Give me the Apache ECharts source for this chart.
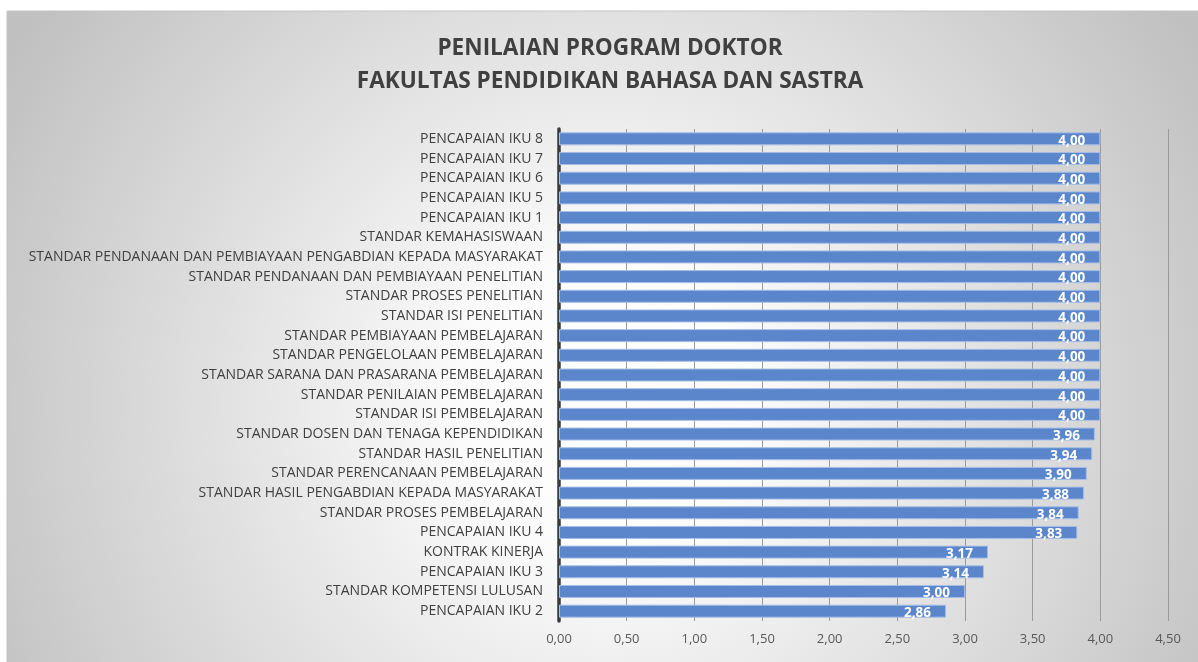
<!DOCTYPE html>
<html>
<head>
<meta charset="utf-8">
<script src="https://cdn.jsdelivr.net/npm/echarts@6/dist/echarts.min.js"></script>
<style>
  html, body { margin: 0; padding: 0; background: #fff; }
  #chart { width: 1198px; height: 662px; }
</style>
</head>
<body>
<div id="chart"></div>
<script>
// bottom to top, as drawn
var categories = [
  "PENCAPAIAN IKU 2",
  "STANDAR KOMPETENSI LULUSAN",
  "PENCAPAIAN IKU 3",
  "KONTRAK KINERJA",
  "PENCAPAIAN IKU 4",
  "STANDAR PROSES PEMBELAJARAN",
  "STANDAR HASIL PENGABDIAN KEPADA MASYARAKAT",
  "STANDAR PERENCANAAN PEMBELAJARAN",
  "STANDAR HASIL PENELITIAN",
  "STANDAR DOSEN DAN TENAGA KEPENDIDIKAN",
  "STANDAR ISI PEMBELAJARAN",
  "STANDAR PENILAIAN PEMBELAJARAN",
  "STANDAR SARANA DAN PRASARANA PEMBELAJARAN",
  "STANDAR PENGELOLAAN PEMBELAJARAN",
  "STANDAR PEMBIAYAAN PEMBELAJARAN",
  "STANDAR ISI PENELITIAN",
  "STANDAR PROSES PENELITIAN",
  "STANDAR PENDANAAN DAN PEMBIAYAAN PENELITIAN",
  "STANDAR PENDANAAN DAN PEMBIAYAAN PENGABDIAN KEPADA MASYARAKAT",
  "STANDAR KEMAHASISWAAN",
  "PENCAPAIAN IKU 1",
  "PENCAPAIAN IKU 5",
  "PENCAPAIAN IKU 6",
  "PENCAPAIAN IKU 7",
  "PENCAPAIAN IKU 8"
];

var scores = [
  2.86, 3.00, 3.14, 3.17, 3.83, 3.84, 3.88, 3.90, 3.94, 3.96,
  4.00, 4.00, 4.00, 4.00, 4.00, 4.00, 4.00, 4.00, 4.00, 4.00,
  4.00, 4.00, 4.00, 4.00, 4.00
];

var titleLines = ["PENILAIAN PROGRAM DOKTOR", "FAKULTAS PENDIDIKAN BAHASA DAN SASTRA"];

var FONT = "Open Sans";

function comma(v) {
  return Number(v).toFixed(2).replace(".", ",");
}

var chart = echarts.init(document.getElementById("chart"), null, { renderer: "canvas" });

var option = {
  animation: false,
  textStyle: { fontFamily: FONT },
  graphic: [{
    type: "rect",
    z: -10,
    silent: true,
    shape: { x: 7, y: 11, width: 1200, height: 660 },
    style: {
      fill: {
        type: "radial", x: 0.5, y: 0.6, r: 1.05,
        colorStops: [
          { offset: 0, color: "#ffffff" },
          { offset: 0.2, color: "#fcfcfc" },
          { offset: 1, color: "#c0c0c0" }
        ]
      },
      stroke: "#c4c4c4",
      lineWidth: 1
    }
  }],
  title: {
    text: titleLines.join("\n"),
    left: 605,
    top: 27,
    textAlign: "center",
    textStyle: {
      fontFamily: FONT,
      fontWeight: "bold",
      fontSize: 22.6,
      lineHeight: 33,
      color: "#404040"
    }
  },
  grid: { left: 559, right: 30, top: 129, bottom: 41, containLabel: false },
  xAxis: {
    type: "value",
    min: 0,
    max: 4.5,
    interval: 0.5,
    axisLine: { show: false },
    axisTick: { show: false },
    splitLine: { lineStyle: { color: "#9a9a9a", width: 1 } },
    axisLabel: {
      color: "#595959",
      fontSize: 13,
      margin: 12,
      formatter: comma
    }
  },
  yAxis: {
    type: "category",
    data: categories,
    axisLine: { show: true, lineStyle: { color: "#3a3a3a", width: 3.5 } },
    axisTick: { show: false },
    axisLabel: { color: "#404040", fontSize: 14, margin: 16 }
  },
  series: [{
    type: "bar",
    data: scores,
    barWidth: 13,
    itemStyle: {
      color: "#5b86cc",
      borderColor: "#a6bee6",
      borderWidth: 1
    },
    label: {
      show: true,
      position: "insideRight",
      distance: 15,
      offset: [0, 2],
      color: "#ffffff",
      fontWeight: "bold",
      fontSize: 13.5,
      formatter: function (p) { return comma(p.value); }
    }
  }]
};

chart.setOption(option);
</script>
</body>
</html>
